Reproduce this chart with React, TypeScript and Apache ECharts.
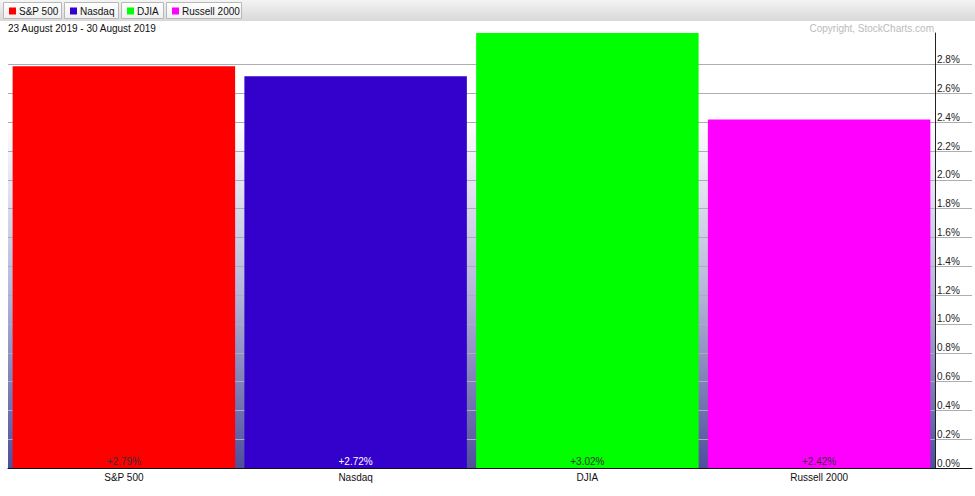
import React, { useEffect, useRef } from "react";
import * as echarts from "echarts";

const categories = ["S&P 500", "Nasdaq", "DJIA", "Russell 2000"];
const values = [2.79, 2.72, 3.02, 2.42];
const barColors = ["#ff0000", "#3300cc", "#00ff00", "#ff00ff"];
const labelColors = ["#333333", "#ffffff", "#333333", "#333333"];
const yTickMax = 2.8;
const yTickStep = 0.2;
const dateRange = "23 August 2019 - 30 August 2019";
const copyright = "Copyright, StockCharts.com";

// legend button boxes [x, width]
const legendBoxes = [
  [3, 58],
  [64, 54],
  [121, 42],
  [166, 75],
];

const FONT = "'Liberation Sans', Arial, sans-serif";

export default function App() {
  const ref = useRef<HTMLDivElement>(null);
  useEffect(() => {
    if (!ref.current) return;
    const chart = echarts.init(ref.current, null, { renderer: "svg" });
    const dataMax = Math.max(...values);
    const plotTop = 33;
    const plotBottom = 468;
    const scale = (plotBottom - plotTop) / dataMax;
    const grid1Top = plotBottom - yTickMax * scale;

    const series = categories.map((name, i) => ({
      name,
      type: "bar",
      stack: "all",
      xAxisIndex: 0,
      yAxisIndex: 0,
      barCategoryGap: "4%",
      z: 3,
      itemStyle: { color: barColors[i] },
      label: {
        show: true,
        position: "insideBottom",
        distance: 2,
        color: labelColors[i],
        fontSize: 10,
        fontFamily: FONT,
        formatter: (p: any) => "+" + Number(p.value).toFixed(2) + "%",
      },
      data: values.map((v, j) => (j === i ? v : "-")),
    }));

    const graphics: any[] = [
      {
        type: "rect",
        shape: { x: 0, y: 0, width: 975, height: 21 },
        style: {
          fill: new echarts.graphic.LinearGradient(0, 0, 0, 1, [
            { offset: 0, color: "#f4f4f4" },
            { offset: 1, color: "#d8d8d8" },
          ]),
        },
        z: -10,
      },
      ...legendBoxes.map(([x, w]) => ({
        type: "rect",
        shape: { x: x + 0.5, y: 2.5, width: w, height: 16 },
        style: {
          fill: new echarts.graphic.LinearGradient(0, 0, 0, 1, [
            { offset: 0, color: "#ffffff" },
            { offset: 1, color: "#f0f0f0" },
          ]),
          stroke: "#b8b8b8",
          lineWidth: 1,
        },
        z: -5,
      })),
      {
        type: "text",
        x: 8,
        y: 28,
        style: {
          text: dateRange,
          fontSize: 10,
          fontFamily: FONT,
          fill: "#111111",
          verticalAlign: "middle",
        },
      },
      {
        type: "text",
        x: 934,
        y: 28,
        style: {
          text: copyright,
          fontSize: 10,
          fontFamily: FONT,
          fill: "#bbbbbb",
          align: "right",
          verticalAlign: "middle",
        },
      },
    ];

    chart.setOption({
      animation: false,
      backgroundColor: "#ffffff",
      textStyle: { fontFamily: FONT },
      legend: categories.map((name, i) => ({
        data: [name],
        left: legendBoxes[i][0] + 6,
        top: 4,
        icon: "rect",
        itemWidth: 7,
        itemHeight: 7,
        itemGap: 0,
        padding: [2, 0, 2, 0],
        textStyle: { fontSize: 10, color: "#111111", fontFamily: FONT, padding: [0, 0, 0, -2] },
        selectedMode: false,
      })),
      grid: [
        {
          left: 8,
          right: 40,
          top: plotTop,
          bottom: 496 - plotBottom,
          show: true,
          borderWidth: 0,
          backgroundColor: new echarts.graphic.LinearGradient(0, 0, 0, 1, [
            { offset: 0, color: "#ffffff" },
            { offset: 0.2, color: "#ffffff" },
            { offset: 0.6, color: "#b4b4d8" },
            { offset: 1, color: "#4e4e9c" },
          ]),
        },
        {
          left: 8,
          right: 3,
          top: grid1Top,
          bottom: 496 - plotBottom,
          show: false,
        },
      ],
      xAxis: [
        {
          type: "category",
          gridIndex: 0,
          data: categories,
          axisLine: { show: false },
          axisTick: { show: false },
          axisLabel: { fontSize: 10, color: "#111111", margin: 4, fontFamily: FONT },
          splitLine: { show: false },
        },
        {
          type: "value",
          gridIndex: 1,
          min: 0,
          max: 1,
          axisLine: { show: true, lineStyle: { color: "#111111", width: 1 } },
          axisTick: { show: false },
          axisLabel: { show: false },
          splitLine: { show: false },
          z: 4,
        },
      ],
      yAxis: [
        {
          type: "value",
          gridIndex: 0,
          position: "right",
          min: 0,
          max: dataMax,
          axisLine: { show: true, lineStyle: { color: "#222222", width: 1 } },
          axisTick: { show: false },
          axisLabel: { show: false },
          splitLine: { show: false },
          z: 4,
        },
        {
          type: "value",
          gridIndex: 1,
          position: "right",
          min: 0,
          max: yTickMax,
          interval: yTickStep,
          axisLine: { show: false },
          axisTick: { show: false },
          axisLabel: {
            inside: true,
            align: "left",
            verticalAlign: "bottom",
            margin: 35,
            fontSize: 10,
            color: "#222222",
            fontFamily: FONT,
            formatter: (v: number) => v.toFixed(1) + "%",
          },
          splitLine: { show: true, lineStyle: { color: "#adadb8", width: 1 } },
          z: 1,
        },
      ],
      graphic: graphics,
      series,
    });
    return () => chart.dispose();
  }, []);
  return <div ref={ref} style={{ width: 975, height: 496, position: "absolute", left: 0, top: 0 }} />;
}
